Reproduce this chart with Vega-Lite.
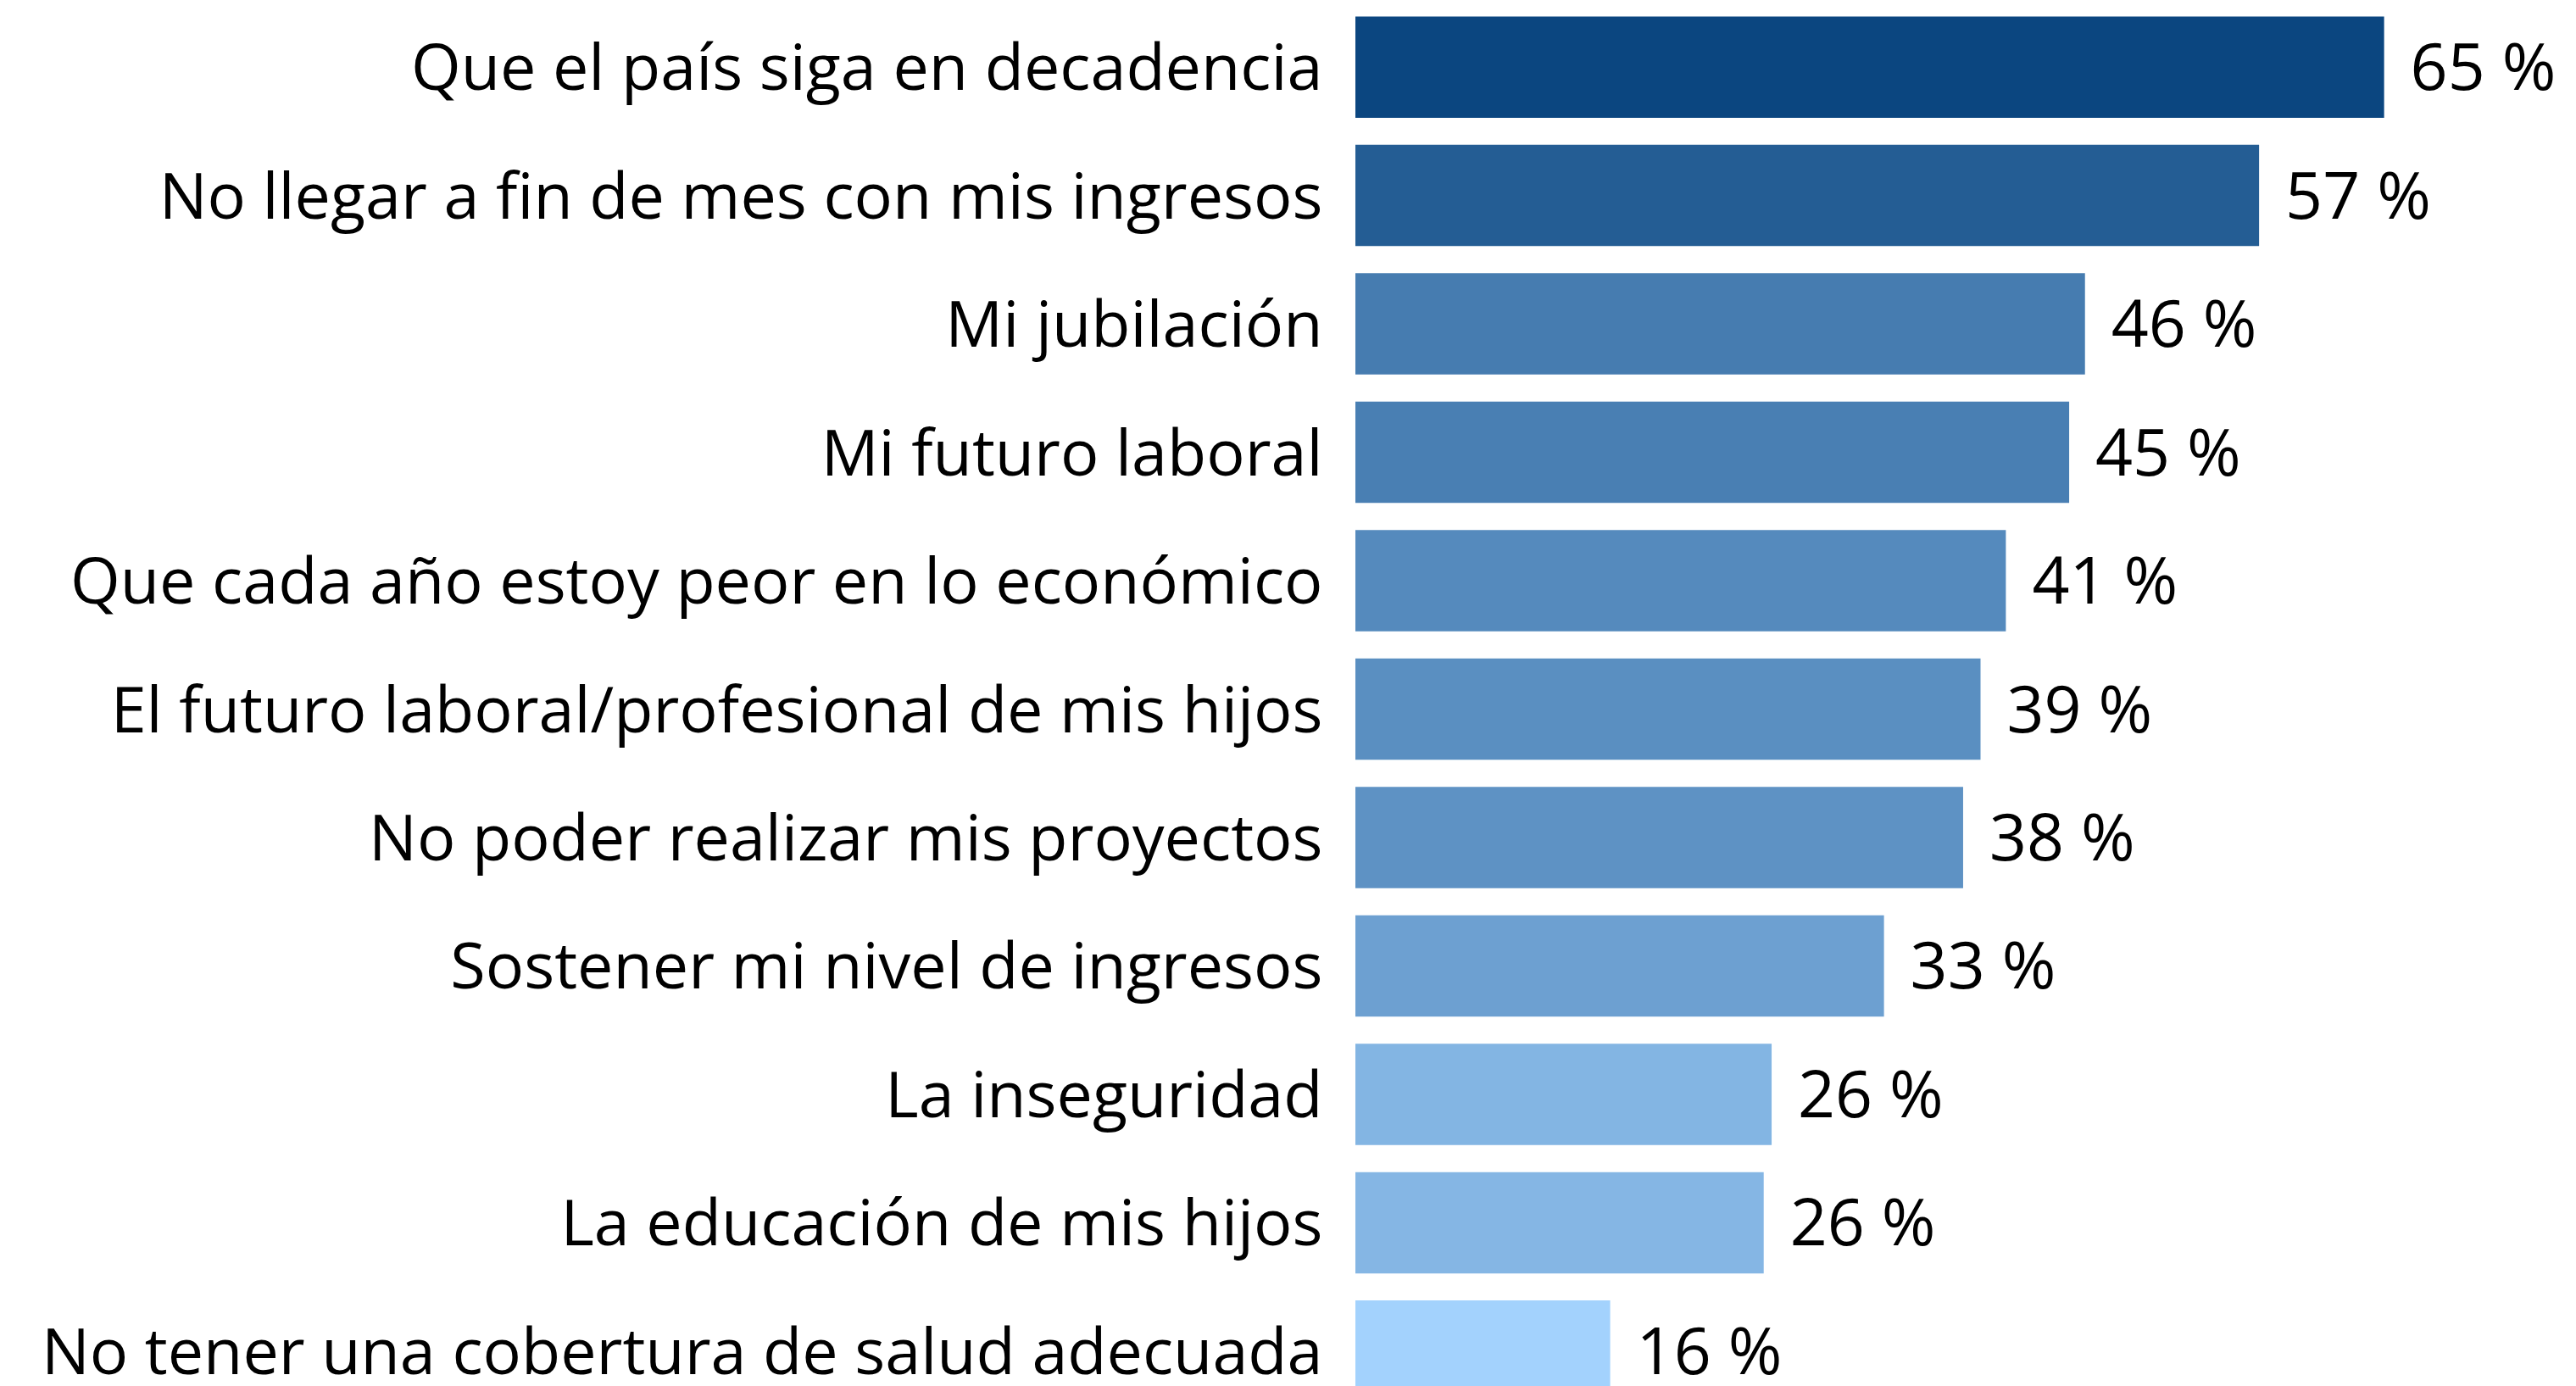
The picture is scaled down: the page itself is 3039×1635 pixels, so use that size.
{
  "$schema": "https://vega.github.io/schema/vega-lite/v6.json",
  "autosize": {"type": "none"},
  "padding": {"left": 1599, "top": 0, "right": 0, "bottom": 0},
  "width": 1419,
  "height": 1673,
  "background": "white",
  "config": {"view": {"stroke": null}, "font": "Open Sans"},
  "data": {
    "values": [
      {"item": "Que el país siga en decadencia", "pct": 65.0, "label": "65 %"},
      {"item": "No llegar a fin de mes con mis ingresos", "pct": 57.1, "label": "57 %"},
      {"item": "Mi jubilación", "pct": 46.1, "label": "46 %"},
      {"item": "Mi futuro laboral", "pct": 45.1, "label": "45 %"},
      {"item": "Que cada año estoy peor en lo económico", "pct": 41.1, "label": "41 %"},
      {"item": "El futuro laboral/profesional de mis hijos", "pct": 39.5, "label": "39 %"},
      {"item": "No poder realizar mis proyectos", "pct": 38.4, "label": "38 %"},
      {"item": "Sostener mi nivel de ingresos", "pct": 33.4, "label": "33 %"},
      {"item": "La inseguridad", "pct": 26.3, "label": "26 %"},
      {"item": "La educación de mis hijos", "pct": 25.8, "label": "26 %"},
      {"item": "No tener una cobertura de salud adecuada", "pct": 16.1, "label": "16 %"}
    ]
  },
  "encoding": {
    "y": {
      "field": "item",
      "type": "nominal",
      "sort": null,
      "scale": {"paddingInner": 0.211, "paddingOuter": 0.128},
      "axis": {
        "title": null,
        "domain": false,
        "ticks": false,
        "labelPadding": 39,
        "labelOffset": 4,
        "labelFontSize": 75.5,
        "labelFont": "Open Sans",
        "labelColor": "#000000",
        "labelLimit": 2000
      }
    },
    "x": {
      "field": "pct",
      "type": "quantitative",
      "scale": {"domain": [0, 76], "nice": false},
      "axis": null
    }
  },
  "layer": [
    {
      "mark": {"type": "bar"},
      "encoding": {
        "color": {
          "field": "pct",
          "type": "quantitative",
          "scale": {"range": ["#a3d2fd", "#0b4680"], "interpolate": "rgb"},
          "legend": null
        }
      }
    },
    {
      "mark": {
        "type": "text",
        "align": "left",
        "baseline": "middle",
        "dx": 31,
        "dy": 4,
        "fontSize": 77,
        "font": "Open Sans",
        "color": "#000000"
      },
      "encoding": {"text": {"field": "label"}}
    }
  ]
}
